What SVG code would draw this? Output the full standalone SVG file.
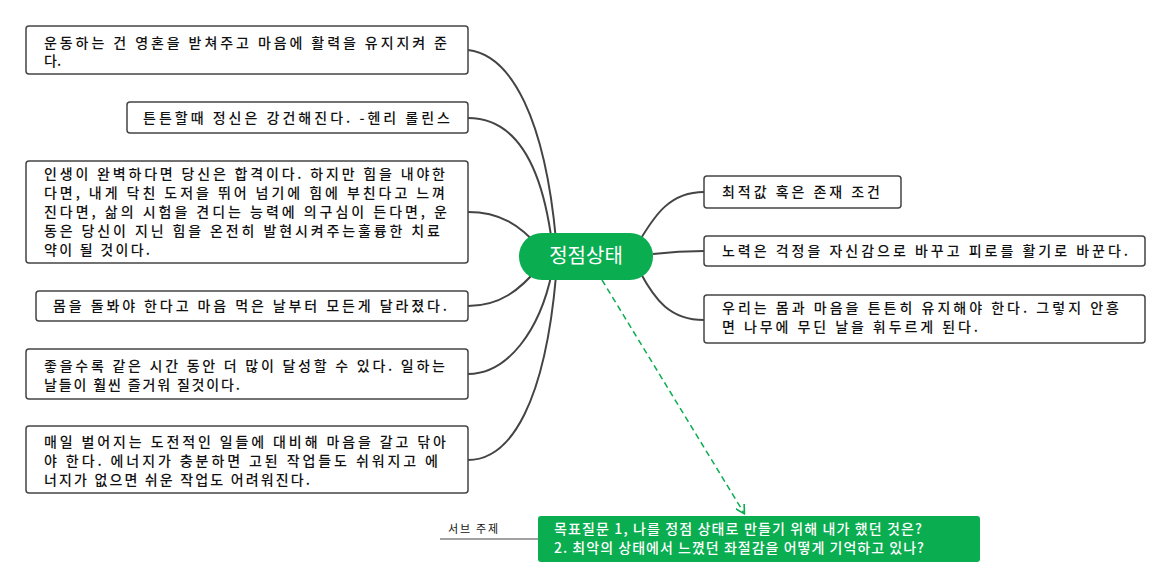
<svg xmlns="http://www.w3.org/2000/svg" width="1170" height="582" viewBox="0 0 1170 582">
<style>
.b{fill:#fff;stroke:#444;stroke-width:1.5}
.t{font-family:"Noto Sans CJK KR","Noto Sans",sans-serif;font-size:14px;font-weight:500;fill:#111}
.w{font-family:"Noto Sans CJK KR","Noto Sans",sans-serif;font-size:14px;font-weight:500;fill:#fff}
.c{fill:none;stroke:#444;stroke-width:2}
</style>
<defs><marker id="ar" markerWidth="10" markerHeight="10" refX="8" refY="5" orient="auto" markerUnits="userSpaceOnUse"><path d="M0,0 L9,5 L0,10" fill="none" stroke="#0aad50" stroke-width="1.6"/></marker></defs>
<rect width="1170" height="582" fill="#fff"/>
<g id="connectors">
<path class="c" d="M556,240 C545,120 512,55 468,50"/>
<path class="c" d="M552,243 C540,150 508,118 468,118"/>
<path class="c" d="M540,248 C520,225 500,212 468,212"/>
<path class="c" d="M540,266 C520,290 500,306 468,306"/>
<path class="c" d="M552,272 C540,330 508,374 468,374"/>
<path class="c" d="M556,276 C545,400 512,460 468,460"/>
<path class="c" d="M640,240 C655,215 670,192 704,192"/>
<path class="c" d="M653,254 C670,252 685,251 704,251"/>
<path class="c" d="M640,272 C655,300 670,320 704,320"/>
<path d="M602,280 L744,513" fill="none" stroke="#0aad50" stroke-width="1.5" stroke-dasharray="6,4" marker-end="url(#ar)"/>
<path d="M440,539 L538,539" stroke="#444" stroke-width="1"/>
</g>
<g id="center"><rect x="519" y="233" width="134" height="47" rx="23" fill="#0aad50"/><text x="586" y="263" text-anchor="middle" class="w" style="font-size:20px;font-weight:400">정점상태</text></g>
<g id="n1"><rect class="b" x="26" y="26" width="442" height="48" rx="3"/><text class="t" x="44" y="48" textLength="403" lengthAdjust="spacing">운동하는 건 영혼을 받쳐주고 마음에 활력을 유지지켜 준</text><text class="t" x="44" y="66">다.</text></g>
<g id="n2"><rect class="b" x="127" y="102" width="341" height="31" rx="3"/><text class="t" x="143" y="123" textLength="307" lengthAdjust="spacing">튼튼할때 정신은 강건해진다. -헨리 롤린스</text></g>
<g id="n3"><rect class="b" x="26" y="161" width="442" height="102" rx="3"/>
<text class="t" x="44" y="179" textLength="401" lengthAdjust="spacing">인생이 완벽하다면 당신은 합격이다. 하지만 힘을 내야한</text>
<text class="t" x="44" y="198" textLength="401" lengthAdjust="spacing">다면, 내게 닥친 도저을 뛰어 넘기에 힘에 부친다고 느껴</text>
<text class="t" x="44" y="217" textLength="403" lengthAdjust="spacing">진다면, 삶의 시험을 견디는 능력에 의구심이 든다면, 운</text>
<text class="t" x="44" y="236" textLength="396" lengthAdjust="spacing">동은 당신이 지닌 힘을 온전히 발현시켜주는훌륭한 치료</text>
<text class="t" x="44" y="255" textLength="106" lengthAdjust="spacing">약이 될 것이다.</text></g>
<g id="n4"><rect class="b" x="36" y="291" width="432" height="30" rx="3"/><text class="t" x="53" y="311" textLength="394" lengthAdjust="spacing">몸을 돌봐야 한다고 마음 먹은 날부터 모든게 달라졌다.</text></g>
<g id="n5"><rect class="b" x="26" y="349" width="442" height="50" rx="3"/><text class="t" x="44" y="371" textLength="401" lengthAdjust="spacing">좋을수록 같은 시간 동안 더 많이 달성할 수 있다. 일하는</text><text class="t" x="44" y="390" textLength="196" lengthAdjust="spacing">날들이 훨씬 즐거워 질것이다.</text></g>
<g id="n6"><rect class="b" x="26" y="426" width="442" height="67" rx="3"/><text class="t" x="44" y="447" textLength="402" lengthAdjust="spacing">매일 벌어지는 도전적인 일들에 대비해 마음을 갈고 닦아</text><text class="t" x="44" y="466" textLength="394" lengthAdjust="spacing">야 한다. 에너지가 충분하면 고된 작업들도 쉬워지고 에</text><text class="t" x="44" y="485" textLength="266" lengthAdjust="spacing">너지가 없으면 쉬운 작업도 어려워진다.</text></g>
<g id="n7"><rect class="b" x="704" y="176" width="197" height="32" rx="3"/><text class="t" x="722" y="197" textLength="158" lengthAdjust="spacing">최적값 혹은 존재 조건</text></g>
<g id="n8"><rect class="b" x="704" y="236" width="441" height="30" rx="3"/><text class="t" x="722" y="256" textLength="406" lengthAdjust="spacing">노력은 걱정을 자신감으로 바꾸고 피로를 활기로 바꾼다.</text></g>
<g id="n9"><rect class="b" x="704" y="295" width="441" height="48" rx="3"/><text class="t" x="722" y="313" textLength="397" lengthAdjust="spacing">우리는 몸과 마음을 튼튼히 유지해야 한다. 그렇지 안흥</text><text class="t" x="722" y="332" textLength="256" lengthAdjust="spacing">면 나무에 무딘 날을 휘두르게 된다.</text></g>
<g id="sub"><rect x="538" y="516" width="442" height="46" rx="3" fill="#0aad50"/><text class="w" x="554" y="534" textLength="368" lengthAdjust="spacing">목표질문 1, 나를 정점 상태로 만들기 위해 내가 했던 것은?</text><text class="w" x="554" y="553" textLength="370" lengthAdjust="spacing">2. 최악의 상태에서 느꼈던 좌절감을 어떻게 기억하고 있나?</text>
<text class="t" x="448" y="533" style="font-size:11px;font-weight:400" textLength="50" lengthAdjust="spacing">서브 주제</text></g>
</svg>
